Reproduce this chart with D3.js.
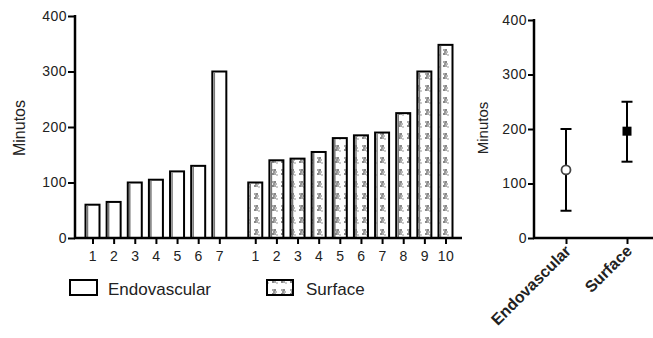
<!DOCTYPE html>
<html>
<head>
<meta charset="utf-8">
<title>Minutos</title>
<script src="https://d3js.org/d3.v7.min.js"></script>
<style>
  body { margin: 0; background: #fff; }
  text { font-family: "Liberation Sans", Arial, sans-serif; fill: #222; }
</style>
</head>
<body>
<script>
// data
var endoLabels = ["1", "2", "3", "4", "5", "6", "7"];
var endoValues = [60, 65, 100, 105, 120, 130, 300];
var surfLabels = ["1", "2", "3", "4", "5", "6", "7", "8", "9", "10"];
var surfValues = [100, 140, 143, 155, 180, 185, 190, 225, 300, 348];
var yTicks = [0, 100, 200, 300, 400];
var groups = ["Endovascular", "Surface"];
var groupMean = [125, 196];
var groupLow = [50, 140];
var groupHigh = [200, 250];

var W = 653, H = 338;
var svg = d3.select("body").append("svg").attr("width", W).attr("height", H);

// pattern for the Surface bars
var defs = svg.append("defs");
var pat = defs.append("pattern").attr("id", "dots")
  .attr("patternUnits", "userSpaceOnUse").attr("width", 9).attr("height", 12);
pat.append("rect").attr("width", 9).attr("height", 12).attr("fill", "#fff");
[[2,1,"#aaa"],[4,1,"#888"],[3,3,"#999"],[5,3,"#bbb"],[2,5,"#888"],[4,5,"#aaa"],[6,6,"#ccc"]].forEach(function (p) {
  pat.append("rect").attr("x", p[0]).attr("y", p[1]).attr("width", 2).attr("height", 2).attr("fill", p[2]);
});

/* ---------- left chart: individual cases ---------- */
var g1 = svg.append("g");
var y1 = d3.scaleLinear().domain([0, 400]).range([238, 16]);
var x1 = d3.scaleLinear().domain([0, 16.7]).range([92.5, 445.5]);
var bw = 14;

var cases = endoLabels.map(function (l, i) { return {label: l, v: endoValues[i], pos: i, s: 0}; })
  .concat(surfLabels.map(function (l, i) { return {label: l, v: surfValues[i], pos: 7.7 + i, s: 1}; }));

g1.selectAll("rect.bar").data(cases).enter().append("rect")
  .attr("class", "bar")
  .attr("x", function (d) { return x1(d.pos) - bw / 2; })
  .attr("y", function (d) { return y1(d.v); })
  .attr("width", bw)
  .attr("height", function (d) { return y1(0) - y1(d.v); })
  .attr("fill", function (d) { return d.s ? "url(#dots)" : "#fff"; })
  .attr("stroke", "#000").attr("stroke-width", 2);

// grey inner shade on the left side of each bar
g1.selectAll("line.shade").data(cases).enter().append("line")
  .attr("x1", function (d) { return x1(d.pos) - bw / 2 + 2; })
  .attr("x2", function (d) { return x1(d.pos) - bw / 2 + 2; })
  .attr("y1", function (d) { return y1(d.v) + 1; })
  .attr("y2", y1(0))
  .attr("stroke", "#777").attr("stroke-width", 1.5);

var yAx1 = g1.append("g").attr("transform", "translate(75,0)")
  .call(d3.axisLeft(y1).tickValues(yTicks).tickSize(7).tickPadding(1).tickSizeOuter(0));
yAx1.select(".domain").remove();
g1.append("line").attr("x1", 75).attr("x2", 75).attr("y1", 15).attr("y2", 239)
  .attr("stroke", "#000").attr("stroke-width", 2.5);

var xAx1 = g1.append("g").attr("transform", "translate(0,238)")
  .call(d3.axisBottom(x1).tickValues(cases.map(function (d) { return d.pos; }))
    .tickFormat(function (p, i) { return cases[i].label; })
    .tickSize(6).tickPadding(7));
xAx1.select(".domain").remove();
g1.append("line").attr("x1", 74).attr("x2", 462).attr("y1", 238).attr("y2", 238)
  .attr("stroke", "#000").attr("stroke-width", 2.5);

g1.append("text").attr("transform", "translate(25,128) rotate(-90)")
  .attr("text-anchor", "middle").style("font-size", "16px").text("Minutos");

/* ---------- right chart: group summary ---------- */
var g2 = svg.append("g");
var y2 = d3.scaleLinear().domain([0, 400]).range([238, 20]);
var x2 = d3.scalePoint().domain(groups).range([566, 627]);

var yAx2 = g2.append("g").attr("transform", "translate(534,0)")
  .call(d3.axisLeft(y2).tickValues(yTicks).tickSize(6).tickPadding(1).tickSizeOuter(0));
yAx2.select(".domain").remove();
g2.append("line").attr("x1", 534).attr("x2", 534).attr("y1", 19).attr("y2", 239)
  .attr("stroke", "#000").attr("stroke-width", 2.5);

var xAx2 = g2.append("g").attr("transform", "translate(0,238)")
  .call(d3.axisBottom(x2).tickSize(6).tickFormat(""));
xAx2.select(".domain").remove();
g2.append("line").attr("x1", 533).attr("x2", 653).attr("y1", 238).attr("y2", 238)
  .attr("stroke", "#000").attr("stroke-width", 2.5);

g2.selectAll("text.cat").data(groups).enter().append("text")
  .attr("class", "cat")
  .attr("text-anchor", "end")
  .attr("transform", function (d) { return "translate(" + (x2(d) + 6) + ",252) rotate(-45)"; })
  .style("font-size", "16px").style("font-weight", "bold")
  .text(function (d) { return d; });

g2.append("text").attr("transform", "translate(488,128) rotate(-90)")
  .attr("text-anchor", "middle").style("font-size", "15px").text("Minutos");

var summ = groups.map(function (gname, i) {
  return {g: gname, m: groupMean[i], lo: groupLow[i], hi: groupHigh[i]};
});
g2.selectAll("line.err").data(summ).enter().append("line")
  .attr("x1", function (d) { return x2(d.g); }).attr("x2", function (d) { return x2(d.g); })
  .attr("y1", function (d) { return y2(d.lo); }).attr("y2", function (d) { return y2(d.hi); })
  .attr("stroke", "#000").attr("stroke-width", 2);
["lo", "hi"].forEach(function (k) {
  g2.selectAll("line.cap" + k).data(summ).enter().append("line")
    .attr("x1", function (d) { return x2(d.g) - 5.5; }).attr("x2", function (d) { return x2(d.g) + 5.5; })
    .attr("y1", function (d) { return y2(d[k]); }).attr("y2", function (d) { return y2(d[k]); })
    .attr("stroke", "#000").attr("stroke-width", 2);
});
g2.append("circle").datum(summ[0])
  .attr("cx", function (d) { return x2(d.g); }).attr("cy", function (d) { return y2(d.m); })
  .attr("r", 4.5).attr("fill", "#fff").attr("stroke", "#444").attr("stroke-width", 1.8);
g2.append("rect").datum(summ[1])
  .attr("x", function (d) { return x2(d.g) - 4.5; }).attr("y", function (d) { return y2(d.m) - 4.5; })
  .attr("width", 9).attr("height", 9).attr("fill", "#000");

// axis styling
svg.selectAll(".tick line").attr("stroke", "#000").attr("stroke-width", 2);
svg.selectAll(".tick text").style("font-size", "14px").style("letter-spacing", "0.5px").attr("fill", "#222");

/* ---------- legend ---------- */
var leg = svg.append("g");
leg.append("rect").attr("x", 70).attr("y", 280).attr("width", 27).attr("height", 15)
  .attr("fill", "#fff").attr("stroke", "#000").attr("stroke-width", 2);
leg.append("text").attr("x", 108).attr("y", 295).style("font-size", "17px").text("Endovascular");
leg.append("rect").attr("x", 267).attr("y", 280).attr("width", 26).attr("height", 15)
  .attr("fill", "url(#dots)").attr("stroke", "#000").attr("stroke-width", 2);
leg.append("text").attr("x", 306).attr("y", 295).style("font-size", "17px").text("Surface");
</script>
</body>
</html>
